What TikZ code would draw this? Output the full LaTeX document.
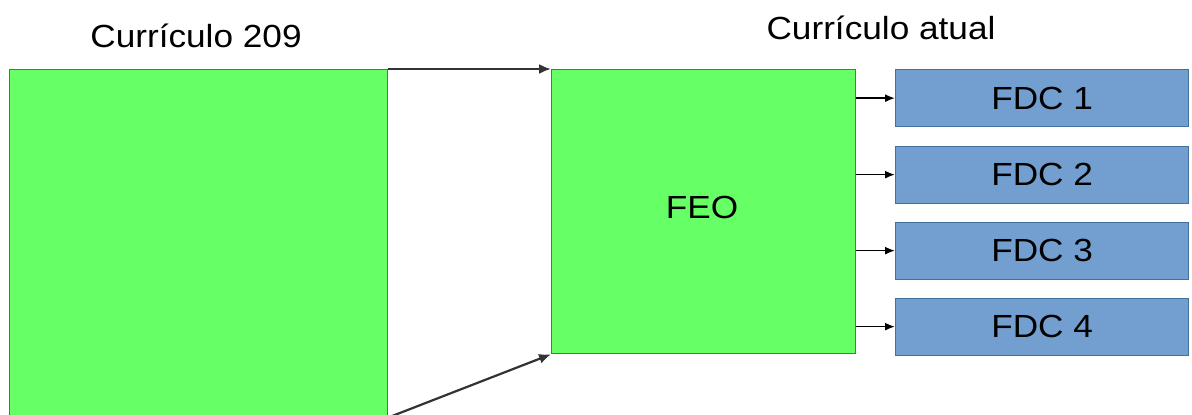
\documentclass[tikz,border=0pt]{standalone}
\usepackage{fontspec}
\usepackage{graphicx}
\setmainfont{Liberation Sans}
\usetikzlibrary{arrows.meta}
\definecolor{greenfill}{RGB}{102,255,102}
\definecolor{bluefill}{RGB}{114,159,207}
\definecolor{blueedge}{RGB}{65,113,156}
\newcommand{\wide}[1]{\scalebox{1.1}[1]{#1}}
\begin{document}
\begin{tikzpicture}[x=1pt,y=-1pt,
  txt/.style={font=\fontsize{32}{38}\selectfont, inner sep=0pt},
  greenbox/.style={draw=blueedge, line width=1.3pt, fill=greenfill},
  fdcbox/.style={draw=blueedge, line width=1.3pt, fill=bluefill, minimum width=293pt, minimum height=57pt, inner sep=0pt, font=\fontsize{32}{38}\selectfont},
  arr/.style={-{Latex[length=12pt,width=10pt]}, line width=2.2pt, black!80},
  sarr/.style={-{Latex[length=10pt,width=8pt]}, line width=1.6pt, black}]
\useasboundingbox (0,0) rectangle (1192,415);
\begin{scope}
\clip (0,0) rectangle (1192,415);
\node[greenbox, minimum width=378pt, minimum height=360pt, inner sep=0pt, anchor=north west] (left) at (9,69) {};
\node[greenbox, minimum width=304pt, minimum height=284pt, inner sep=0pt, anchor=north west] (feo) at (551,69) {};
\node[txt, anchor=base] (feol) at (702,218) {\wide{FEO}};
\node[txt, anchor=base] (t1) at (196,47) {\wide{Currículo 209}};
\node[txt, anchor=base] (t2) at (881,39) {\wide{Currículo atual}};
\node[fdcbox, anchor=north west] (f1) at (895,69) {\wide{FDC 1}};
\node[fdcbox, anchor=north west] (f2) at (895,145.5) {\wide{FDC 2}};
\node[fdcbox, anchor=north west] (f3) at (895,221.5) {\wide{FDC 3}};
\node[fdcbox, anchor=north west] (f4) at (895,297.5) {\wide{FDC 4}};
\coordinate (lb) at (387,418);
\draw[arr] (left.north east) -- (feo.north west);
\draw[arr] (lb) -- (feo.south west);
\draw[sarr] (feo.east |- f1.west) -- (f1.west);
\draw[sarr] (feo.east |- f2.west) -- (f2.west);
\draw[sarr] (feo.east |- f3.west) -- (f3.west);
\draw[sarr] (feo.east |- f4.west) -- (f4.west);
\end{scope}
\end{tikzpicture}
\end{document}
